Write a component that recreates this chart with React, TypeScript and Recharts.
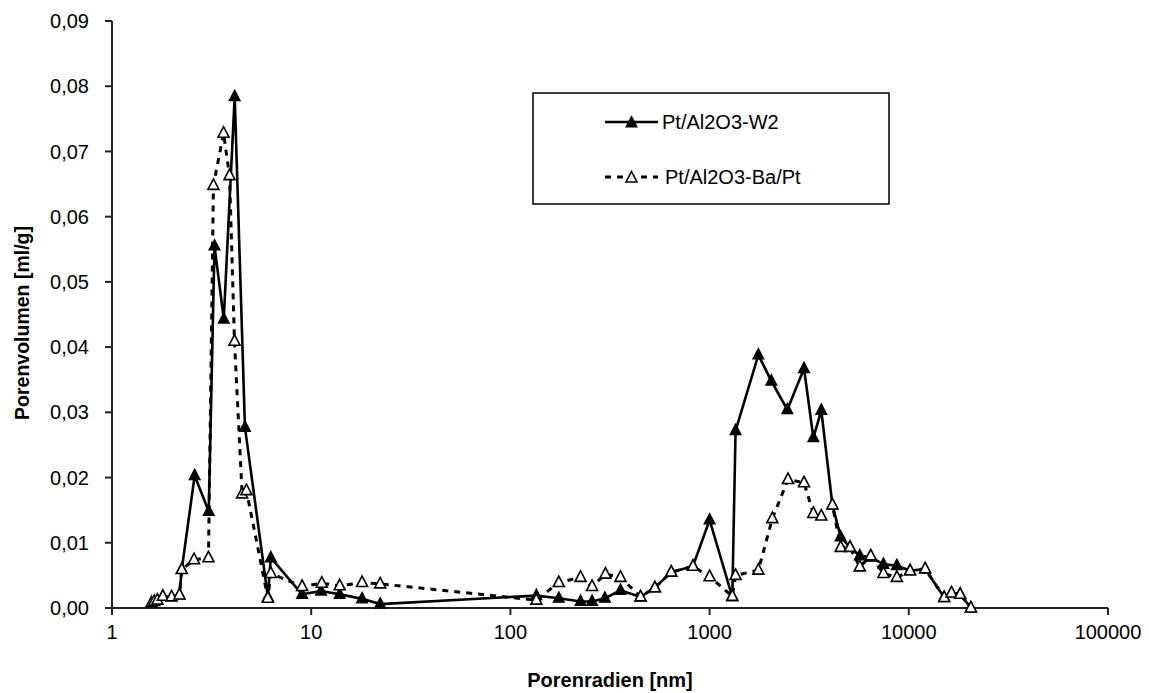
import React from 'react';
import { LineChart, Line, XAxis, YAxis } from 'recharts';

// Pt/Al2O3-W2 (solid, filled triangles)
const w2Radius = [2.18, 2.24, 2.6, 3.06, 3.27, 3.64, 4.13, 4.65, 6.06, 6.27, 9.0, 11.2, 13.9, 18.0, 22.2, 135, 175, 225, 257, 298, 357, 450, 531, 642, 825, 1000, 1300, 1350, 1757, 2042, 2456, 2979, 3318, 3637, 4136, 4550, 5070, 5675, 6442, 7460, 8710, 10150, 12080, 15050, 16390, 18110, 20500];
const w2Volume = [0.0020, 0.0059, 0.0203, 0.0148, 0.0555, 0.0443, 0.0784, 0.0277, 0.0017, 0.0077, 0.0021, 0.0026, 0.0021, 0.0014, 0.0006, 0.0019, 0.0015, 0.0010, 0.0010, 0.0015, 0.0027, 0.0017, 0.0031, 0.0055, 0.0064, 0.0135, 0.0017, 0.0272, 0.0388, 0.0348, 0.0304, 0.0367, 0.0261, 0.0303, 0.0158, 0.0109, 0.0093, 0.0080, 0.0078, 0.0067, 0.0065, 0.0057, 0.0060, 0.0016, 0.0023, 0.0021, 0.0000];

// Pt/Al2O3-Ba/Pt (dashed, open triangles)
const baRadius = [1.58, 1.63, 1.69, 1.80, 1.99, 2.18, 2.24, 2.58, 3.05, 3.23, 3.63, 3.89, 4.12, 4.50, 4.73, 6.06, 6.27, 9.0, 11.3, 13.9, 18.0, 22.2, 135, 175, 225, 257, 300, 357, 450, 531, 642, 825, 1000, 1300, 1350, 1757, 2065, 2475, 2979, 3318, 3637, 4136, 4550, 5070, 5675, 6442, 7460, 8710, 10150, 12080, 15050, 16390, 18110, 20500];
const baVolume = [0.0008, 0.0010, 0.0012, 0.0018, 0.0017, 0.0020, 0.0059, 0.0074, 0.0077, 0.0648, 0.0728, 0.0663, 0.0409, 0.0175, 0.0180, 0.0015, 0.0053, 0.0033, 0.0038, 0.0034, 0.0039, 0.0037, 0.0012, 0.0039, 0.0047, 0.0033, 0.0052, 0.0047, 0.0017, 0.0031, 0.0055, 0.0064, 0.0048, 0.0018, 0.0050, 0.0058, 0.0137, 0.0197, 0.0192, 0.0145, 0.0141, 0.0158, 0.0093, 0.0093, 0.0063, 0.0080, 0.0053, 0.0047, 0.0057, 0.0060, 0.0016, 0.0023, 0.0021, 0.0000];

const xTicks = [1, 10, 100, 1000, 10000, 100000];
const yTicks = [0, 0.01, 0.02, 0.03, 0.04, 0.05, 0.06, 0.07, 0.08, 0.09];
const seriesNames = ['Pt/Al2O3-W2', 'Pt/Al2O3-Ba/Pt'];
const xTitle = 'Porenradien [nm]';
const yTitle = 'Porenvolumen [ml/g]';

const w2Data = w2Radius.map((x, i) => ({ x, y: w2Volume[i] }));
const baData = baRadius.map((x, i) => ({ x, y: baVolume[i] }));

const FONT = '"Liberation Sans", Arial, sans-serif';

const tri = (cx: number, cy: number) =>
  `M${cx},${cy - 6.5} L${cx + 5.5},${cy + 4} L${cx - 5.5},${cy + 4} Z`;

const FilledDot = (props: any) => {
  const { cx, cy, index } = props;
  if (cx == null || cy == null) return <g key={`f${index}`} />;
  return <path key={`f${index}`} d={tri(cx, cy)} fill="#000" stroke="#000" strokeWidth={1.2} />;
};
const OpenDot = (props: any) => {
  const { cx, cy, index } = props;
  if (cx == null || cy == null) return <g key={`o${index}`} />;
  return <path key={`o${index}`} d={tri(cx, cy)} fill="#fff" stroke="#000" strokeWidth={1.6} />;
};

const fmtY = (v: number) => v.toFixed(2).replace('.', ',');

export default function App() {
  const W = 1141;
  const H = 685;
  return (
    <div style={{ position: 'relative', width: W, height: H, background: '#fff' }}>
      <LineChart width={W} height={H} margin={{ top: 13, right: 41, left: 34, bottom: 45 }}>
        <XAxis
          dataKey="x"
          type="number"
          scale="log"
          domain={[1, 100000]}
          ticks={xTicks}
          allowDataOverflow
          height={40}
          stroke="#222"
          strokeWidth={2}
          tickSize={7}
          tickMargin={10}
          tick={{ fill: '#000', fontSize: 20, fontFamily: FONT }}
          tickFormatter={(v: number) => String(v)}
          interval={0}
        />
        <XAxis
          xAxisId="top"
          dataKey="x"
          type="number"
          scale="log"
          domain={[1, 100000]}
          orientation="top"
          height={0}
          tick={false}
          tickLine={false}
          stroke="#222"
          strokeWidth={1.5}
        />
        <YAxis
          type="number"
          domain={[0, 0.09]}
          ticks={yTicks}
          width={70}
          stroke="#222"
          strokeWidth={2}
          tickSize={7}
          tickMargin={16}
          interval={0}
          tick={{ fill: '#000', fontSize: 20, fontFamily: FONT }}
          tickFormatter={fmtY}
        />
        <YAxis
          yAxisId="right"
          orientation="right"
          type="number"
          domain={[0, 0.09]}
          width={0}
          tick={false}
          tickLine={false}
          stroke="#222"
          strokeWidth={1.5}
        />
        <Line
          data={w2Data}
          dataKey="y"
          name={seriesNames[0]}
          stroke="#000"
          strokeWidth={2.6}
          dot={FilledDot}
          activeDot={false}
          isAnimationActive={false}
        />
        <Line
          data={baData}
          dataKey="y"
          name={seriesNames[1]}
          stroke="#000"
          strokeWidth={3}
          strokeDasharray="6 6"
          dot={OpenDot}
          activeDot={false}
          isAnimationActive={false}
        />
      </LineChart>
      <svg
        width={W}
        height={H}
        style={{ position: 'absolute', left: 0, top: 0, pointerEvents: 'none' }}
      >
        <text
          x={0}
          y={0}
          transform={`translate(14, 315) rotate(-90)`}
          textAnchor="middle"
          dominantBaseline="central"
          fontFamily={FONT}
          fontWeight="bold"
          fontSize={19.5}
          fill="#000"
        >
          {yTitle}
        </text>
        <text
          x={602}
          y={672}
          textAnchor="middle"
          dominantBaseline="central"
          fontFamily={FONT}
          fontWeight="bold"
          fontSize={20}
          fill="#000"
        >
          {xTitle}
        </text>
        <g transform="translate(525, 85)">
          <rect x={0} y={0} width={356} height={111} fill="#fff" stroke="#000" strokeWidth={1.5} />
          <line x1={72} y1={29} x2={125} y2={29} stroke="#000" strokeWidth={2.6} />
          <path d={tri(98.5, 30)} fill="#000" stroke="#000" strokeWidth={1.2} />
          <text x={129} y={29} dominantBaseline="central" fontFamily={FONT} fontSize={20} fill="#000">
            {seriesNames[0]}
          </text>
          <line x1={72} y1={84} x2={125} y2={84} stroke="#000" strokeWidth={3} strokeDasharray="6 6" />
          <path d={tri(98.5, 85)} fill="#fff" stroke="#000" strokeWidth={1.6} />
          <text x={132} y={84} dominantBaseline="central" fontFamily={FONT} fontSize={20} fill="#000">
            {seriesNames[1]}
          </text>
        </g>
      </svg>
    </div>
  );
}
